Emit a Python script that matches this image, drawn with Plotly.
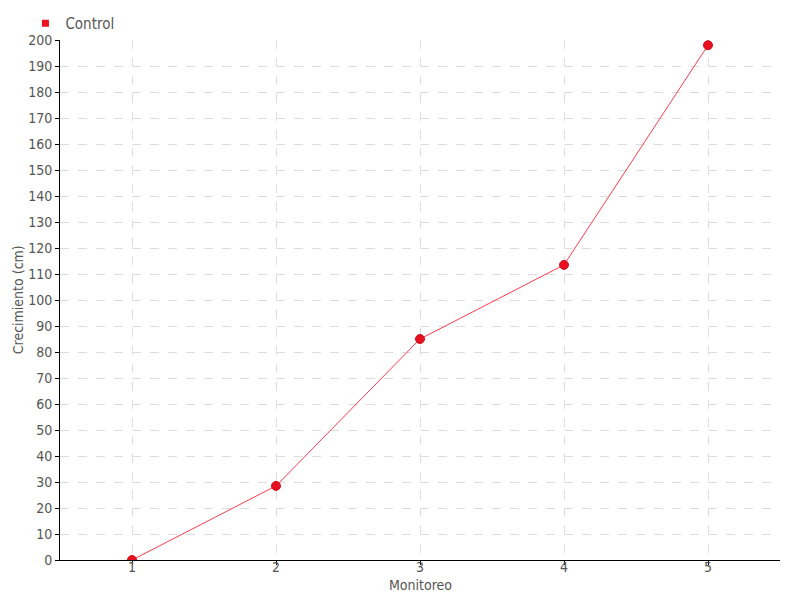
import plotly.graph_objects as go

monitoreo = [1, 2, 3, 4, 5]
control = [0, 28.5, 85, 113.5, 198]
series_name = "Control"
x_title = "Monitoreo"
y_title = "Crecimiento (cm)"

FONT = "Liberation Sans Narrow, DejaVu Sans Condensed, Roboto, sans-serif"

fig = go.Figure()
fig.add_trace(go.Scatter(
    x=monitoreo, y=control, mode="lines+markers", name=series_name,
    line=dict(color="#ff3b4e", width=1),
    marker=dict(color="#e8101e", size=9, line=dict(color="#d01020", width=1)),
    showlegend=False, legendgroup="c",
))
fig.add_trace(go.Scatter(
    x=[None], y=[None], mode="markers", name=series_name,
    marker=dict(color="#ee1122", size=7, symbol="square"),
    showlegend=True, legendgroup="c",
))

fig.update_layout(
    width=800, height=600,
    margin=dict(l=60, r=20, t=40, b=40, autoexpand=False),
    plot_bgcolor="white", paper_bgcolor="white",
    font=dict(family=FONT, size=14, color="#555555"),
    legend=dict(x=-0.048, y=1.0, xanchor="left", yanchor="bottom",
                orientation="h", bgcolor="rgba(0,0,0,0)",
                font=dict(size=15, color="#555555"), itemwidth=30),
    xaxis=dict(
        range=[0.5, 5.5], tickvals=monitoreo, ticktext=[str(v) for v in monitoreo],
        showline=True, linecolor="black", linewidth=1,
        ticks="outside", tickcolor="black", ticklen=4,
        ticklabelstandoff=-10, tickfont=dict(size=14),
        showgrid=True, gridcolor="#dddddd", griddash="dash", gridwidth=1,
        zeroline=False, automargin=False,
    ),
    yaxis=dict(
        range=[0, 200], dtick=10,
        showline=True, linecolor="black", linewidth=1,
        ticks="outside", tickcolor="black", ticklen=4, tickfont=dict(size=14),
        showgrid=True, gridcolor="#dddddd", griddash="dash", gridwidth=1,
        zeroline=False, automargin=False,
    ),
    annotations=[
        dict(text=x_title, xref="paper", yref="paper", x=0.5, y=-0.048,
             xanchor="center", yanchor="middle", showarrow=False,
             font=dict(size=14, color="#555555")),
        dict(text=y_title, xref="paper", yref="paper", x=-0.058, y=0.5,
             xanchor="center", yanchor="middle", showarrow=False, textangle=-90,
             font=dict(size=14, color="#555555")),
    ],
)

fig.write_html("out.html", config={"displayModeBar": False},
               post_script="document.body.style.margin='0';")
